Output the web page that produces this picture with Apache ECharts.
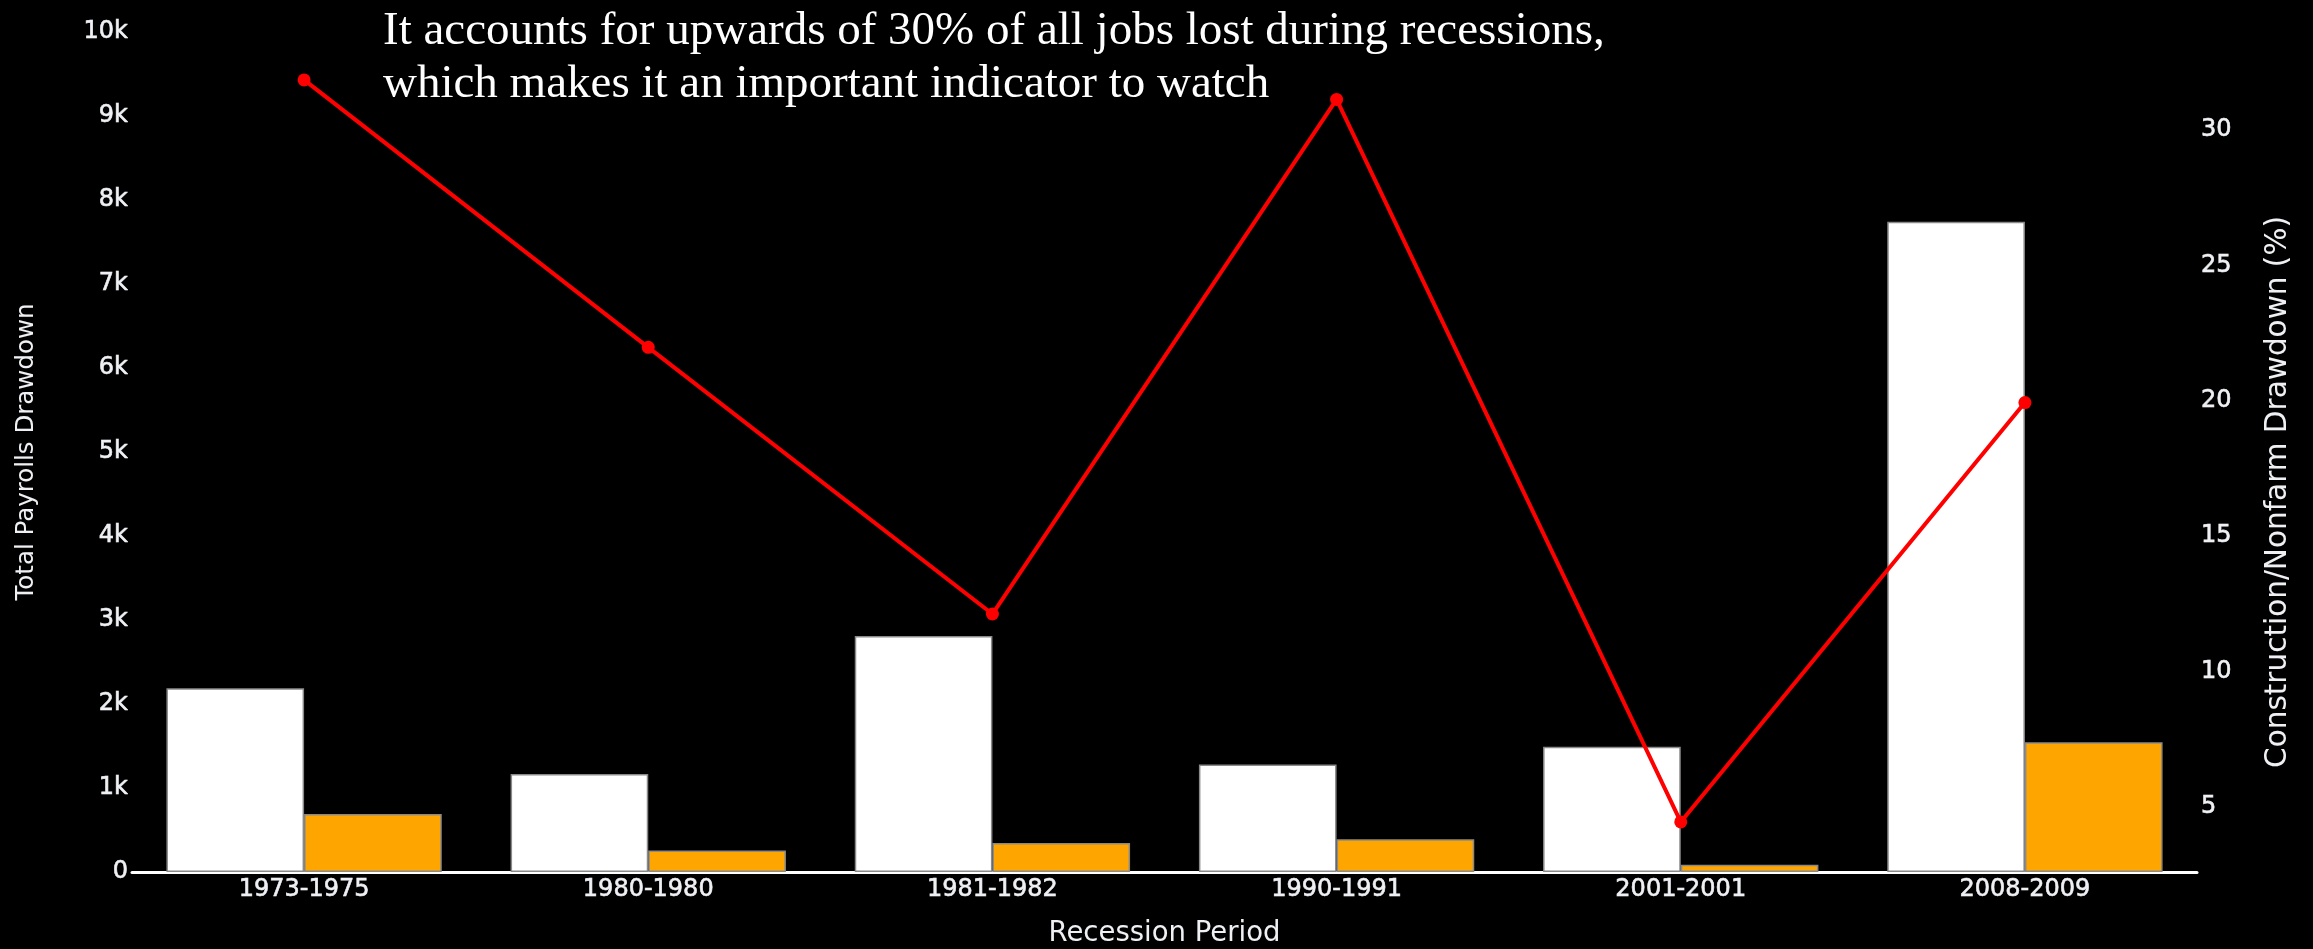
<!DOCTYPE html>
<html>
<head>
<meta charset="utf-8">
<title>Recession drawdowns</title>
<script src="https://cdn.jsdelivr.net/npm/echarts@6/dist/echarts.min.js"></script>
<style>
  html, body { margin: 0; padding: 0; background: #000; }
  #chart { width: 2313px; height: 949px; }
</style>
</head>
<body>
<div id="chart"></div>
<script>
// Recession periods on the category axis
const periods = ['1973-1975', '1980-1980', '1981-1982', '1990-1991', '2001-2001', '2008-2009'];
// Total nonfarm payroll drawdown (thousands of jobs)
const totalDrawdown = [2187, 1167, 2810, 1280, 1490, 7740];
// Construction payroll drawdown (thousands of jobs)
const constructionDrawdown = [690, 256, 345, 390, 85, 1544];
// Construction share of the nonfarm drawdown (%)
const constructionShare = [31.85, 21.97, 12.12, 31.13, 4.44, 19.93];
// Left axis tick labels
const leftTicks = ['0', '1k', '2k', '3k', '4k', '5k', '6k', '7k', '8k', '9k', '10k'];

const noteLines = [
  'It accounts for upwards of 30% of all jobs lost during recessions,',
  'which makes it an important indicator to watch'
];

const textColor = '#eef0f4';
const uiFont = '"DejaVu Sans", Verdana, sans-serif';

// slightly heavier tick text
const tickText = {
  color: textColor, fontFamily: uiFont, fontSize: 24,
  textBorderColor: textColor, textBorderWidth: 0.6
};

const chart = echarts.init(document.getElementById('chart'), null, { renderer: 'canvas' });

chart.setOption({
  backgroundColor: '#000',
  animation: false,
  grid: { left: 132, right: 116, top: 32, bottom: 77, containLabel: false, outerBoundsMode: 'none' },
  xAxis: {
    type: 'category',
    data: periods,
    name: 'Recession Period',
    nameLocation: 'middle',
    nameGap: 48,
    nameTextStyle: { color: textColor, fontFamily: uiFont, fontSize: 27.5 },
    axisLine: { show: true, lineStyle: { color: '#ffffff', width: 3 } },
    axisTick: { show: false },
    axisLabel: Object.assign({ margin: 6 }, tickText),
    splitLine: { show: false }
  },
  yAxis: [
    {
      type: 'value',
      min: 0,
      max: 10000,
      interval: 1000,
      name: 'Total Payrolls Drawdown',
      nameLocation: 'middle',
      nameGap: 93,
      nameRotate: 90,
      nameTextStyle: { color: textColor, fontFamily: uiFont, fontSize: 24.5 },
      axisLine: { show: false },
      axisTick: { show: false },
      splitLine: { show: false },
      axisLabel: Object.assign({
        margin: 4,
        formatter: v => leftTicks[Math.round(v / 1000)]
      }, tickText)
    },
    {
      type: 'value',
      position: 'right',
      min: 2.59,
      max: 33.62,
      splitNumber: 6,
      name: 'Construction/Nonfarm Drawdown (%)',
      nameLocation: 'middle',
      nameGap: 66,
      nameRotate: 90,
      nameTextStyle: {
        color: textColor, fontFamily: uiFont, fontSize: 29.5,
        padding: [0, 80, 0, 0]
      },
      axisLine: { show: false },
      axisTick: { show: false },
      splitLine: { show: false },
      axisLabel: Object.assign({
        margin: 4,
        showMinLabel: false, showMaxLabel: false,
        formatter: v => (v % 5 === 0 ? String(v) : '')
      }, tickText)
    }
  ],
  series: [
    {
      name: 'Total Payrolls Drawdown',
      type: 'bar',
      yAxisIndex: 0,
      data: totalDrawdown,
      barGap: '0%',
      barCategoryGap: '20%',
      itemStyle: { color: '#ffffff', borderColor: '#8a8a8a', borderWidth: 1.5 },
      z: 2
    },
    {
      name: 'Construction Drawdown',
      type: 'bar',
      yAxisIndex: 0,
      data: constructionDrawdown,
      barGap: '0%',
      barCategoryGap: '20%',
      itemStyle: { color: '#ffa500', borderColor: '#8a8a8a', borderWidth: 1.5 },
      z: 2
    },
    {
      name: 'Construction/Nonfarm Drawdown (%)',
      type: 'line',
      yAxisIndex: 1,
      data: constructionShare,
      symbol: 'circle',
      symbolSize: 13,
      lineStyle: { color: '#ff0000', width: 4 },
      itemStyle: { color: '#ff0000' },
      z: 5
    }
  ],
  graphic: noteLines.map((line, i) => ({
    type: 'text',
    left: 383,
    top: 8 + i * 53,
    z: 10,
    style: {
      text: line,
      fill: '#ffffff',
      font: '47px "Liberation Serif", "DejaVu Serif", serif'
    }
  }))
});
</script>
</body>
</html>
